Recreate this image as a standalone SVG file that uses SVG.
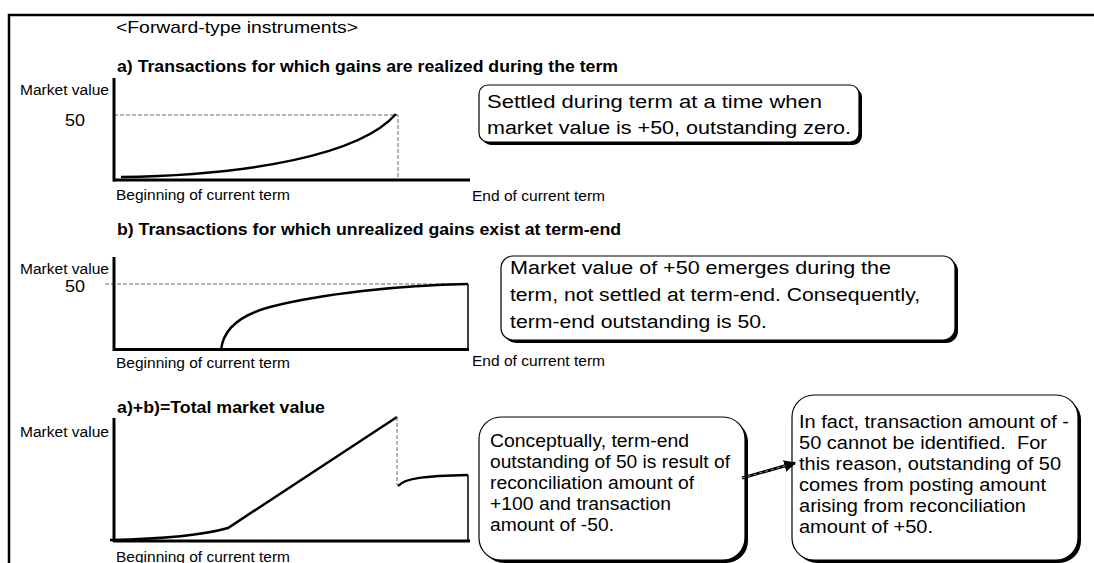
<svg xmlns="http://www.w3.org/2000/svg" width="1094" height="563" viewBox="0 0 1094 563">
<style>
text{font-family:"Liberation Sans",Arial,sans-serif;fill:#000}
.h{font-weight:bold;font-size:16px}
.t{font-size:18px}
.s{font-size:14px}
.c{font-size:17.5px}
.ax{stroke:#000;stroke-width:3;fill:none}
.cv{stroke:#000;stroke-width:2.5;fill:none}
.dash{stroke:#666;stroke-width:1;stroke-dasharray:4 2;fill:none}
.thin{stroke:#000;stroke-width:1.5;fill:none}
.box{fill:#fff;stroke:#000;stroke-width:1.2}
.shadow{fill:#000}
</style>
<defs>
<marker id="ah" viewBox="0 0 10 10" refX="9" refY="5" markerWidth="4" markerHeight="4" orient="auto" markerUnits="strokeWidth">
<path d="M0,0 L10,5 L0,10 z" fill="#000"/>
</marker>
</defs>
<rect width="1094" height="563" fill="#fff"/>
<path d="M9,563 V15 H1094" fill="none" stroke="#000" stroke-width="2.5"/>
<text x="116" y="33" style="font-size:17px" textLength="242" lengthAdjust="spacingAndGlyphs">&lt;Forward-type instruments&gt;</text>

<g id="chart-a">
<text class="h" x="117" y="72" textLength="501" lengthAdjust="spacingAndGlyphs">a) Transactions for which gains are realized during the term</text>
<text class="s" x="20" y="95" textLength="89" lengthAdjust="spacingAndGlyphs">Market value</text>
<text x="65" y="126" style="font-size:16px" textLength="20" lengthAdjust="spacingAndGlyphs">50</text>
<path class="dash" d="M114,115 H398 V180"/>
<line class="ax" x1="114" y1="78" x2="114" y2="181.5" stroke-width="2.5"/>
<line class="ax" x1="113" y1="180" x2="470" y2="180"/>
<path class="cv" d="M121,177 C250,175 360,155 396,114"/>
<text class="s" x="116" y="200" textLength="174" lengthAdjust="spacingAndGlyphs">Beginning of current term</text>
<text class="s" x="472" y="201" textLength="133" lengthAdjust="spacingAndGlyphs">End of current term</text>
</g>

<g id="box-a">
<rect class="shadow" x="482" y="88" width="380" height="57" rx="9"/>
<rect class="box" x="479" y="85" width="380" height="57" rx="9"/>
<text class="t" x="487" y="108" textLength="335" lengthAdjust="spacingAndGlyphs">Settled during term at a time when</text>
<text class="t" x="487" y="134" textLength="364" lengthAdjust="spacingAndGlyphs">market value is +50, outstanding zero.</text>
</g>

<g id="chart-b">
<text class="h" x="117" y="235" textLength="504" lengthAdjust="spacingAndGlyphs">b) Transactions for which unrealized gains exist at term-end</text>
<text class="s" x="20" y="274" textLength="89" lengthAdjust="spacingAndGlyphs">Market value</text>
<text x="65" y="292" style="font-size:16px" textLength="20" lengthAdjust="spacingAndGlyphs">50</text>
<line class="dash" x1="105" y1="284" x2="468" y2="284"/>
<line class="ax" x1="114" y1="257" x2="114" y2="351" stroke-width="2.5"/>
<line class="ax" x1="113" y1="349.5" x2="469" y2="349.5"/>
<line class="thin" x1="468" y1="284" x2="468" y2="349"/>
<path class="cv" d="M221,350 C223,330 240,315 270,307 C320,294 400,285 468,284"/>
<text class="s" x="116" y="368" textLength="174" lengthAdjust="spacingAndGlyphs">Beginning of current term</text>
<text class="s" x="472" y="366" textLength="133" lengthAdjust="spacingAndGlyphs">End of current term</text>
</g>

<g id="box-b">
<rect class="shadow" x="504" y="259" width="454" height="84" rx="12"/>
<rect class="box" x="501" y="256" width="454" height="84" rx="12"/>
<text class="t" x="510" y="274" textLength="381" lengthAdjust="spacingAndGlyphs">Market value of +50 emerges during the</text>
<text class="t" x="510" y="301" textLength="410" lengthAdjust="spacingAndGlyphs">term, not settled at term-end. Consequently,</text>
<text class="t" x="510" y="328" textLength="257" lengthAdjust="spacingAndGlyphs">term-end outstanding is 50.</text>
</g>

<g id="chart-c">
<text class="h" x="117" y="413" textLength="208" lengthAdjust="spacingAndGlyphs">a)+b)=Total market value</text>
<text class="s" x="20" y="437" textLength="89" lengthAdjust="spacingAndGlyphs">Market value</text>
<line class="ax" x1="114" y1="418" x2="114" y2="542" stroke-width="2.5"/>
<line class="ax" x1="113" y1="541" x2="470" y2="541"/>
<path class="cv" d="M110,540 C160,539 200,536 228,528 L397,417"/>
<line class="dash" x1="397" y1="417" x2="397" y2="485"/>
<path class="cv" d="M398,486 C405,478 425,476 468,475"/>
<line class="thin" x1="468" y1="475" x2="468" y2="541"/>
<text class="s" x="116" y="562" textLength="174" lengthAdjust="spacingAndGlyphs">Beginning of current term</text>
</g>

<g id="box-c">
<rect class="shadow" x="482" y="420" width="266" height="143" rx="22"/>
<rect class="box" x="479" y="417" width="266" height="143" rx="22"/>
<text class="c" x="490" y="447" textLength="199" lengthAdjust="spacingAndGlyphs">Conceptually, term-end</text>
<text class="c" x="490" y="468" textLength="240" lengthAdjust="spacingAndGlyphs">outstanding of 50 is result of</text>
<text class="c" x="490" y="489" textLength="204" lengthAdjust="spacingAndGlyphs">reconciliation amount of</text>
<text class="c" x="490" y="510" textLength="181" lengthAdjust="spacingAndGlyphs">+100 and transaction</text>
<text class="c" x="490" y="531" textLength="124" lengthAdjust="spacingAndGlyphs">amount of -50.</text>
</g>

<g id="box-d">
<rect class="shadow" x="795" y="398" width="286" height="165" rx="22"/>
<rect class="box" x="792" y="395" width="286" height="165" rx="22"/>
<text class="c" x="799" y="428" textLength="270" lengthAdjust="spacingAndGlyphs">In fact, transaction amount of -</text>
<text class="c" x="799" y="449" textLength="248" lengthAdjust="spacingAndGlyphs">50 cannot be identified.&#160; For</text>
<text class="c" x="799" y="470" textLength="262" lengthAdjust="spacingAndGlyphs">this reason, outstanding of 50</text>
<text class="c" x="799" y="491" textLength="247" lengthAdjust="spacingAndGlyphs">comes from posting amount</text>
<text class="c" x="799" y="512" textLength="227" lengthAdjust="spacingAndGlyphs">arising from reconciliation</text>
<text class="c" x="799" y="533" textLength="134" lengthAdjust="spacingAndGlyphs">amount of +50.</text>
</g>

<g id="connectors">
<line x1="742" y1="478" x2="795" y2="463" stroke="#000" stroke-width="3" marker-end="url(#ah)"/>
<line x1="742" y1="478" x2="788" y2="465" stroke="#999" stroke-width="1" stroke-dasharray="3 3"/>
</g>
</svg>
